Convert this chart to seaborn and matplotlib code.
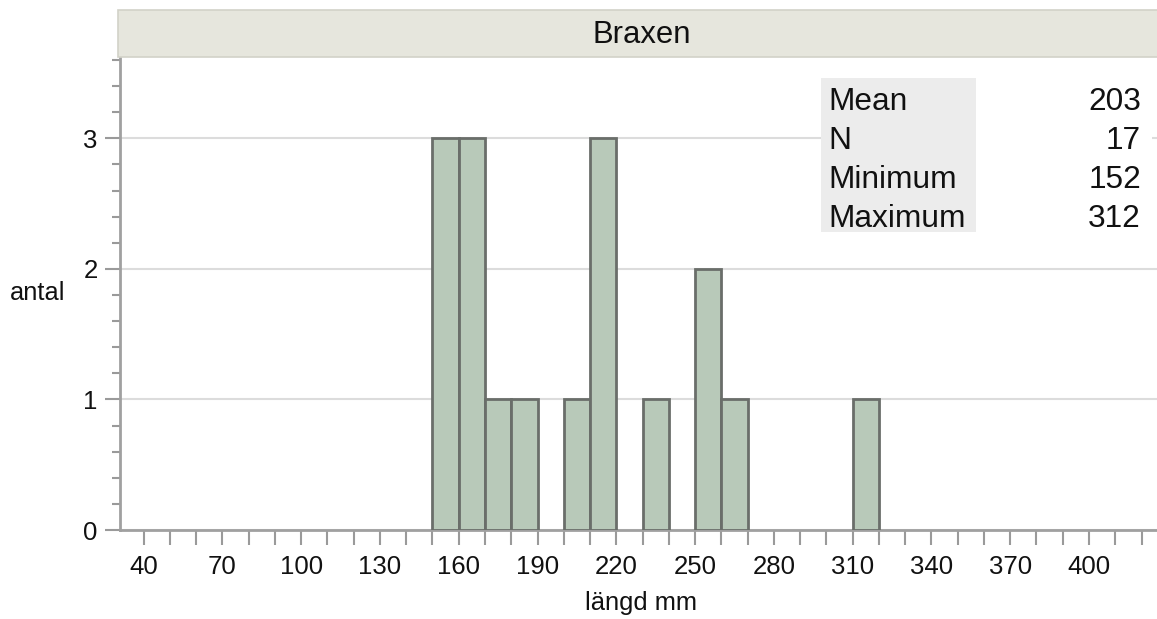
import numpy as np
import matplotlib
matplotlib.use("Agg")
import matplotlib.pyplot as plt
import seaborn as sns
from matplotlib.patches import Rectangle

# ---- data ----
bin_edges = [150, 160, 170, 180, 190, 200, 210, 220, 230, 240, 250, 260,
             270, 280, 290, 300, 310, 320]
bin_counts = [3, 3, 1, 1, 0, 1, 3, 0, 1, 0, 2, 1, 0, 0, 0, 0, 1]
title = "Braxen"
x_label = "längd mm"
y_label = "antal"
stat_names = ["Mean", "N", "Minimum", "Maximum"]
stat_values = ["203", "17", "152", "312"]
x_tick_values = list(range(40, 421, 10))
x_tick_labeled = list(range(40, 401, 30))
y_major = [0, 1, 2, 3]

sns.set_theme(style="white")
plt.rcParams['font.family'] = ['Liberation Sans', 'DejaVu Sans']

W, H = 1157, 619
fig = plt.figure(figsize=(W / 100, H / 100), dpi=100)
fig.patch.set_facecolor("white")

def fx(px):
    return px / W

def fy(py):
    return 1 - py / H

ax_left, ax_right, ax_top, ax_bottom = 120, 1157, 58, 530
ax = fig.add_axes([fx(ax_left), fy(ax_bottom), fx(ax_right - ax_left), (ax_bottom - ax_top) / H])

centers = [(a + b) / 2 for a, b in zip(bin_edges[:-1], bin_edges[1:])]
sns.histplot(x=centers, weights=bin_counts, bins=bin_edges, ax=ax,
             color="#b8c9b9", edgecolor="#6a6e6a", linewidth=2, alpha=1, zorder=3)
for p in ax.patches:
    if p.get_height() == 0:
        p.set_visible(False)

ax.set_xlim(31, 425.9)
ax.set_ylim(0, 3.615)

ax.set_xticks(x_tick_values)
ax.set_xticklabels([str(v) if v in x_tick_labeled else "" for v in x_tick_values])
ax.set_yticks(y_major)
ax.set_yticks(np.arange(0, 3.61, 0.2), minor=True)
ax.set_yticklabels([str(v) for v in y_major])

tick_col = "#9a9a9a"
ax.tick_params(axis="x", which="major", direction="out", length=11, width=1.5,
               color=tick_col, labelsize=18.5, pad=7, labelcolor="#111111", bottom=True)
ax.tick_params(axis="y", which="major", direction="out", length=11, width=1.5,
               color=tick_col, labelsize=18.5, pad=5, labelcolor="#111111", left=True)
ax.tick_params(axis="y", which="minor", direction="out", length=6, width=1.5,
               color=tick_col, left=True)

ax.yaxis.grid(True, which="major", color="#dcdcdc", lw=1.5, zorder=0)
ax.xaxis.grid(False)
ax.set_axisbelow(True)

for s in ["top", "right"]:
    ax.spines[s].set_visible(False)
for s in ["left", "bottom"]:
    ax.spines[s].set_color("#a0a0a0")
    ax.spines[s].set_linewidth(2)

ax.set_xlabel("")
ax.set_ylabel("")
fig.text(fx(641), fy(603), x_label, ha="center", va="center", fontsize=18.4, color="#111111")
fig.text(fx(10), fy(293), y_label, ha="left", va="center", fontsize=18.3, color="#111111")

# header strip
fig.add_artist(Rectangle((fx(118), fy(57)), fx(1157 - 118) + 0.01, (57 - 10) / H,
                         transform=fig.transFigure, facecolor="#e6e6dd",
                         edgecolor="#d2d2c8", lw=1.2, zorder=1))
fig.text(fx(642), fy(35), title, ha="center", va="center", fontsize=22.3, color="#111111", zorder=3)

# stats table
fig.add_artist(Rectangle((fx(976), fy(232)), fx(1152 - 976), (232 - 78) / H,
                         transform=fig.transFigure, facecolor="white", edgecolor="none", zorder=1))
fig.add_artist(Rectangle((fx(821), fy(232)), fx(976 - 821), (232 - 78) / H,
                         transform=fig.transFigure, facecolor="#ececec", edgecolor="none", zorder=1))
row_y = [102, 141, 180, 219]
for name, val, yy in zip(stat_names, stat_values, row_y):
    fig.text(fx(828), fy(yy), name, ha="left", va="center", fontsize=22.8, color="#111111", zorder=3)
    fig.text(fx(1141), fy(yy), val, ha="right", va="center", fontsize=22.8, color="#111111", zorder=3)

fig.savefig("out.png", dpi=100)
